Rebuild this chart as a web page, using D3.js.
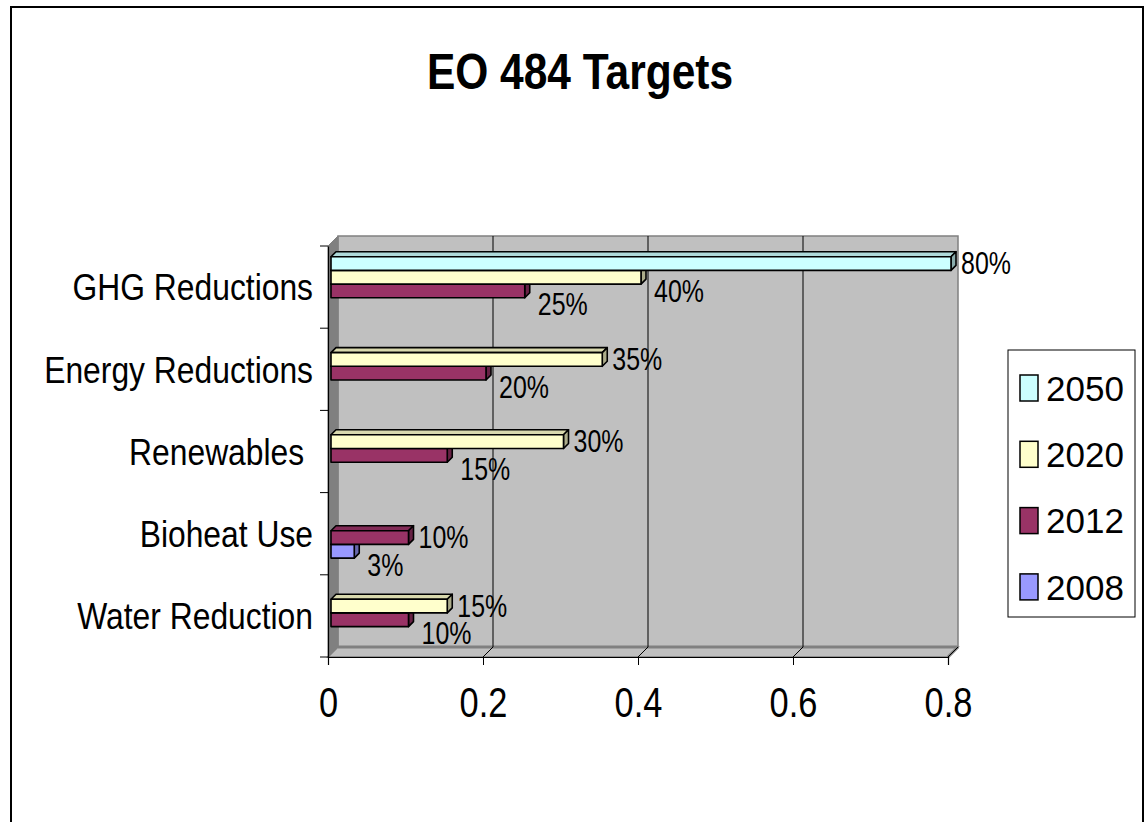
<!DOCTYPE html>
<html><head><meta charset="utf-8">
<script src="https://cdn.jsdelivr.net/npm/d3@7"></script>
<style>
html,body{margin:0;padding:0;background:#fff;}
svg{display:block;}
text{font-family:"Liberation Sans",Arial,sans-serif;}
</style></head>
<body>
<svg id="chart" width="1148" height="822"></svg>
<script>
// ---- data ----
const categories = ["GHG Reductions", "Energy Reductions", "Renewables ", "Bioheat Use", "Water Reduction"];
const seriesNames = ["2050", "2020", "2012", "2008"];
const values2050 = [0.80, null, null, null, null];
const values2020 = [0.40, 0.35, 0.30, null, 0.15];
const values2012 = [0.25, 0.20, 0.15, 0.10, 0.10];
const values2008 = [null, null, null, 0.03, null];
const xTickValues = [0, 0.2, 0.4, 0.6, 0.8];
const title = "EO 484 Targets";

const seriesValues = {"2050": values2050, "2020": values2020, "2012": values2012, "2008": values2008};
const seriesColors = {"2050": "#CCFFFF", "2020": "#FFFFCC", "2012": "#993366", "2008": "#9999FF"};

// ---- layout ----
const svg = d3.select("#chart");
const front = {left: 328, right: 948, top: 246, bottom: 657};
const D = 10;          // wall depth
const barZ = 3;        // bar front-face depth
const barDepth = 5;    // bar thickness in depth

// condensed-font emulation (horizontal squeeze)
const sTitle = 0.85, sCat = 0.86, sTick = 0.8, sLab = 0.78;

svg.append("rect").attr("x", 11).attr("y", 7).attr("width", 1132).attr("height", 830)
  .attr("fill", "#fff").attr("stroke", "#000").attr("stroke-width", 2);

svg.append("text").attr("transform", `translate(580,89) scale(${sTitle},1)`).attr("text-anchor", "middle")
  .attr("font-size", 50).attr("font-weight", "bold").text(title);

const x = d3.scaleLinear().domain([0, 0.8]).range([front.left, front.right]);
const y = d3.scaleBand().domain(categories).range([front.top, front.bottom]);
const ys = d3.scaleBand().domain(seriesNames).range([0, y.bandwidth()]).paddingInner(0).paddingOuter(1);

const g = svg.append("g");

// back wall
g.append("rect").attr("x", front.left + D).attr("y", front.top - D)
  .attr("width", front.right - front.left).attr("height", front.bottom - front.top)
  .attr("fill", "#C0C0C0").attr("stroke", "#808080").attr("stroke-width", 1.5);
// side wall
g.append("path").attr("d", `M${front.left},${front.top}L${front.left + D},${front.top - D}L${front.left + D},${front.bottom - D}L${front.left},${front.bottom}Z`)
  .attr("fill", "#808080").attr("stroke", "#808080");
// floor
g.append("path").attr("d", `M${front.left},${front.bottom}L${front.left + D},${front.bottom - D}L${front.right + D},${front.bottom - D}L${front.right},${front.bottom}Z`)
  .attr("fill", "#C0C0C0").attr("stroke", "#808080").attr("stroke-width", 1.5);
g.append("line").attr("x1", front.left + D).attr("x2", front.right + D)
  .attr("y1", front.bottom - D).attr("y2", front.bottom - D).attr("stroke", "#808080").attr("stroke-width", 3);
g.append("line").attr("x1", front.right).attr("y1", front.bottom).attr("x2", front.right + D).attr("y2", front.bottom - D)
  .attr("stroke", "#808080").attr("stroke-width", 3);

// gridlines on back wall + floor diagonals
xTickValues.forEach(t => {
  if (t > 0 && t < 0.8) {
    g.append("line").attr("x1", x(t) + D).attr("x2", x(t) + D)
      .attr("y1", front.top - D).attr("y2", front.bottom - D).attr("stroke", "#000").attr("stroke-width", 1);
  }
  if (t > 0) {
    g.append("line").attr("x1", x(t)).attr("y1", front.bottom).attr("x2", x(t) + D).attr("y2", front.bottom - D)
      .attr("stroke", "#000").attr("stroke-width", 1);
  }
});

// axes
const xAxis = d3.axisBottom(x).tickValues(xTickValues).tickSize(8).tickFormat(d3.format("~g"));
const xg = svg.append("g").attr("transform", `translate(0,${front.bottom})`).call(xAxis);
xg.attr("font-family", null);
xg.select(".domain").attr("stroke", "#000").attr("stroke-width", 1.2);
xg.selectAll(".tick line").attr("stroke", "#000");
xg.selectAll(".tick text").attr("font-size", 43).attr("fill", "#000")
  .attr("y", null).attr("dy", null).attr("transform", `translate(0,60) scale(${sTick},1)`);

const catRight = 15;
const yAxis = d3.axisLeft(y).tickSize(0);
const yg = svg.append("g").attr("transform", `translate(${front.left},0)`).call(yAxis);
yg.attr("font-family", null);
yg.select(".domain").attr("stroke", "#000").attr("stroke-width", 1.2);
yg.selectAll(".tick text").attr("font-size", 37).attr("fill", "#000").attr("dy", "0.36em")
  .attr("x", null).attr("transform", `translate(${-catRight},0) scale(${sCat},1)`).style("white-space", "pre");
// boundary ticks
const boundaries = categories.map(c => y(c)).concat([front.bottom]);
yg.selectAll("line.bnd").data(boundaries).join("line").attr("class", "bnd")
  .attr("x1", -8).attr("x2", 0).attr("y1", d => d).attr("y2", d => d).attr("stroke", "#000");

// bars (drawn bottom to top)
const bars = svg.append("g");
const labels = [];
categories.slice().reverse().forEach(cat => {
  const ci = categories.indexOf(cat);
  const present = seriesNames.filter(s => seriesValues[s][ci] != null);
  const topSeries = present[0];
  seriesNames.slice().reverse().forEach(s => {
    const v = seriesValues[s][ci];
    if (v == null) return;
    const x0 = x(0) + barZ, x1 = x(v) + barZ;
    const y0 = y(cat) + ys(s) - barZ, y1 = y0 + ys.bandwidth();
    const c = seriesColors[s];
    const e = barDepth;
    const bg = bars.append("g").attr("stroke", "#000").attr("stroke-width", 1.6).attr("stroke-linejoin", "round");
    bg.append("path").attr("d", `M${x0},${y0}L${x0 + e},${y0 - e}L${x1 + e},${y0 - e}L${x1},${y0}Z`)
      .attr("fill", d3.color(c).darker(0.45));
    bg.append("path").attr("d", `M${x1},${y0}L${x1 + e},${y0 - e}L${x1 + e},${y1 - e}L${x1},${y1}Z`)
      .attr("fill", d3.color(c).darker(1.1));
    bg.append("rect").attr("x", x0).attr("y", y0).attr("width", x1 - x0).attr("height", y1 - y0).attr("fill", c);
    const isTop = s === topSeries;
    labels.push({
      text: d3.format(".0%")(v),
      x: x1 + e + (isTop ? 5 : 8),
      y: (y0 + y1) / 2 + (isTop ? -1 : 13)
    });
  });
});
svg.append("g").selectAll("text").data(labels).join("text")
  .attr("transform", d => `translate(${d.x},${d.y}) scale(${sLab},1)`).attr("dy", "0.36em")
  .attr("font-size", 32).attr("fill", "#000").text(d => d.text);

// legend
const lg = svg.append("g");
lg.append("rect").attr("x", 1008).attr("y", 350).attr("width", 127).attr("height", 267)
  .attr("fill", "#fff").attr("stroke", "#000").attr("stroke-width", 1);
seriesNames.forEach((s, i) => {
  const cy = 388 + i * 66.3;
  lg.append("rect").attr("x", 1020).attr("y", cy - 13).attr("width", 18).attr("height", 26)
    .attr("fill", seriesColors[s]).attr("stroke", "#000").attr("stroke-width", 1.5);
  lg.append("text").attr("x", 1046).attr("y", cy).attr("dy", "0.36em").attr("font-size", 35).attr("fill", "#000").text(s);
});
</script>
</body></html>
